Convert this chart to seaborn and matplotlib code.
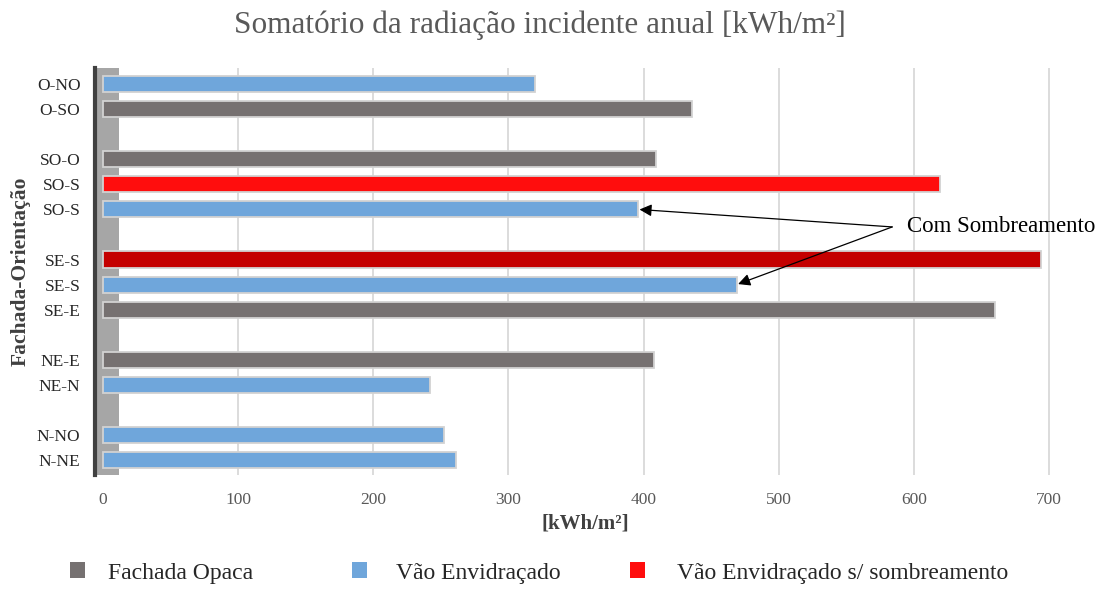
import matplotlib
matplotlib.use("Agg")
import pandas as pd
import matplotlib.pyplot as plt
import seaborn as sns
from matplotlib.patches import Patch

# Values (annual incident radiation, kWh/m2)
fachada_orientacao = ["O-NO", "O-SO", "SO-O", "SO-S", "SO-S", "SE-S",
                      "SE-S", "SE-E", "NE-E", "NE-N", "N-NO", "N-NE"]
fachada = ["O", "O", "SO", "SO", "SO", "SE", "SE", "SE", "NE", "NE", "N", "N"]
tipo = ["Vão Envidraçado", "Fachada Opaca", "Fachada Opaca",
        "Vão Envidraçado s/ sombreamento", "Vão Envidraçado",
        "Vão Envidraçado s/ sombreamento", "Vão Envidraçado", "Fachada Opaca",
        "Fachada Opaca", "Vão Envidraçado", "Vão Envidraçado", "Vão Envidraçado"]
radiacao = [320, 436, 409, 619, 396, 694, 469, 660, 408, 242, 252, 261]
com_sombreamento = ["SO-S", "SE-S"]

legenda = ["Fachada Opaca", "Vão Envidraçado", "Vão Envidraçado s/ sombreamento"]
cores = {"Fachada Opaca": "#767171",
         "Vão Envidraçado": "#6fa6db",
         "Vão Envidraçado s/ sombreamento": "#ff0d0d"}

# one empty slot between facades
slot = []
s, prev = 0, None
for f in fachada:
    if prev is not None:
        s += 2 if f != prev else 1
    slot.append(s)
    prev = f

df = pd.DataFrame({"orient": fachada_orientacao, "fachada": fachada,
                   "tipo": tipo, "radiacao": radiacao, "slot": slot})

sns.set_theme(style="white")
plt.rcParams["font.family"] = ["Liberation Serif", "DejaVu Serif"]

fig = plt.figure(figsize=(11.11, 5.9), dpi=100)
ax = fig.add_axes([0.0855, 0.195, 0.883, 0.69])

sns.barplot(data=df, x="radiacao", y="slot", hue="tipo", orient="h",
            native_scale=True, dodge=False, palette=cores, saturation=1,
            width=0.64, edgecolor="#d2d2d2", linewidth=1.3, legend=False,
            ax=ax, zorder=3)

# SE-S without shading is drawn in a darker red in the original
for p in ax.patches:
    yc = p.get_y() + p.get_height() / 2
    for i in range(len(df)):
        if df.fachada[i] == "SE" and df.tipo[i] == legenda[2] and abs(yc - df.slot[i]) < 0.2:
            p.set_facecolor("#c40000")

ax.set_xlim(-5.9, 720)
ax.set_ylim(15.6, -0.65)
ax.set_xticks(range(0, 701, 100))
ax.set_yticks(slot)
ax.set_yticklabels(fachada_orientacao)
ax.grid(axis="x", color="#d9d9d9", lw=1.3)
ax.grid(axis="y", visible=False)
ax.set_axisbelow(True)

# side wall of the 3D chart
ax.axvspan(-5.9, 11.8, color="#a6a6a6", zorder=1.5, lw=0)
for sp in ["top", "right", "bottom"]:
    ax.spines[sp].set_visible(False)
ax.spines["left"].set_color("#404040")
ax.spines["left"].set_linewidth(3)

ax.tick_params(axis="x", length=0, pad=12, labelsize=12.5, labelcolor="#595959")
ax.tick_params(axis="y", length=0, pad=10.5, labelsize=12.5, labelcolor="#262626")

ax.set_xlabel("[kWh/m²]", fontsize=15, fontweight="bold", color="#404040", labelpad=4)
ax.set_ylabel("Fachada-Orientação", fontsize=15.5, fontweight="bold", color="#404040")
ax.yaxis.set_label_coords(-0.066, 0.5)

# annotation arrows
for o in com_sombreamento:
    row = df[(df.orient == o) & (df.tipo == legenda[1])].iloc[0]
    ax.annotate("", xy=(row.radiacao, row.slot), xytext=(584, 5.7),
                arrowprops=dict(arrowstyle="-|>", color="black", lw=0.9,
                                mutation_scale=18, shrinkA=0, shrinkB=1),
                zorder=5)
ax.text(595, 5.7, "Com Sombreamento", fontsize=16.5, va="center", ha="left",
        color="black", zorder=5)

fig.text(0.486, 0.957, "Somatório da radiação incidente anual [kWh/m²]",
         ha="center", va="center", fontsize=22.5, color="#595959")

# legend entries sit in equal-width columns, as in the original
for t, x0, pad in zip(legenda, [70, 352, 630], [0.97, 1.23, 1.36]):
    fig.legend([Patch(facecolor=cores[t], edgecolor="none")], [t],
               loc="center left", bbox_to_anchor=(x0 / 1111, 1 - 573 / 590),
               frameon=False, fontsize=17, handlelength=0.64, handleheight=0.64,
               handletextpad=pad, borderpad=0, borderaxespad=0)

fig.savefig("out.png", dpi=100)
plt.close(fig)
